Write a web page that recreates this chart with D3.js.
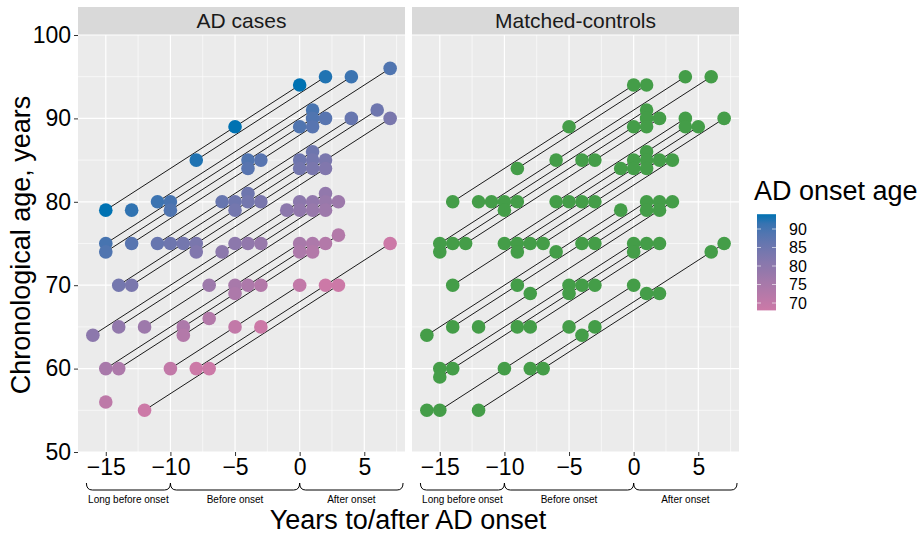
<!DOCTYPE html>
<html>
<head>
<meta charset="utf-8">
<script src="https://cdn.jsdelivr.net/npm/d3@7"></script>
<style>
  body { margin: 0; background: #fff; }
  text { font-family: "Liberation Sans", Arial, sans-serif; }
</style>
</head>
<body>
<svg width="921" height="534"></svg>
<script>
// each track = one subject, [years to/after onset, chronological age]
const caseTracks = [
  [[-15, 79], [-5, 89], [0, 94]],
  [[-8, 85], [2, 95]],
  [[-13, 79]],
  [[-11, 80], [4, 95]],
  [[-15, 75], [-10, 80], [1, 91]],
  [[-15, 74], [-10, 79], [-4, 85], [0, 89], [1, 90], [7, 96]],
  [[-13, 75], [-4, 84], [-3, 85], [1, 89], [2, 90]],
  [[-11, 75], [-6, 80], [4, 90]],
  [[-10, 75], [-5, 80], [-4, 81], [0, 85], [1, 86], [6, 91]],
  [[-14, 70], [-9, 75], [-5, 79], [-4, 80], [0, 84], [1, 85]],
  [[-13, 70], [-8, 75], [-3, 80], [1, 84], [2, 85], [7, 90]],
  [[-8, 74], [2, 84]],
  [[-16, 64], [-6, 74], [-5, 75], [-1, 79], [0, 80]],
  [[-14, 65], [-4, 75], [0, 79], [1, 80], [2, 81]],
  [[-3, 75], [1, 79], [2, 80]],
  [[-12, 65], [-7, 70], [2, 79], [3, 80]],
  [[-15, 60], [-5, 70], [0, 75]],
  [[-14, 60], [-9, 65], [-5, 69], [-4, 70], [0, 74], [1, 75]],
  [[-9, 64], [-7, 66], [-3, 70], [1, 74], [2, 75], [3, 76]],
  [[-15, 56]],
  [[-10, 60], [-5, 65], [0, 70]],
  [[-8, 60], [-3, 65], [2, 70], [7, 75]],
  [[-12, 55], [-7, 60], [3, 70]]
];
const caseOnset = [94, 93, 92, 91, 90, 89, 88, 86, 85, 84, 83, 82, 80, 79, 78, 77, 75, 74, 73, 71, 70, 68, 67];

const controlTracks = [
  [[-14, 80], [-5, 89], [0, 94]],
  [[-9, 84], [1, 94]],
  [[-12, 80]],
  [[-11, 80], [-6, 85], [4, 95]],
  [[-15, 75], [-10, 80], [1, 91]],
  [[-15, 74], [-14, 75], [-10, 79], [-9, 80], [-4, 85], [0, 89], [1, 90], [6, 95]],
  [[-13, 75], [-3, 85], [1, 89], [2, 90]],
  [[-6, 80], [4, 90]],
  [[-10, 75], [-5, 80], [-1, 84], [0, 85], [1, 86], [4, 89]],
  [[-14, 70], [-9, 75], [-4, 80], [0, 84], [1, 85], [5, 89]],
  [[-9, 74], [-8, 75], [-3, 80], [1, 84], [2, 85], [7, 90]],
  [[-7, 75], [3, 85]],
  [[-16, 64], [-6, 74], [-1, 79]],
  [[-14, 65], [-9, 70], [-4, 75], [1, 80]],
  [[-3, 75], [1, 79], [2, 80]],
  [[-12, 65], [-8, 69], [2, 79], [3, 80]],
  [[-15, 60], [-5, 70], [0, 75]],
  [[-15, 59], [-14, 60], [-9, 65], [-5, 69], [-4, 70], [0, 74], [1, 75]],
  [[-8, 65], [-3, 70], [2, 75]],
  [[-16, 55]],
  [[-15, 55], [-10, 60], [-5, 65], [0, 70]],
  [[-8, 60], [-4, 64], [-3, 65], [1, 69], [6, 74], [7, 75]],
  [[-12, 55], [-7, 60], [2, 69]]
];

const xTicks = [-15, -10, -5, 0, 5];
const xMinor = [-17.5, -12.5, -7.5, -2.5, 2.5, 7.5];
const yTicks = [50, 60, 70, 80, 90, 100];
const yMinor = [55, 65, 75, 85, 95];
const legendTicks = [70, 75, 80, 85, 90];
const phaseLabels = ["Long before onset", "Before onset", "After onset"];
const phaseBreaks = [-16.5, -10, 0, 8];

const svg = d3.select("svg");
const panelTop = 35, panelBottom = 452;

const y = d3.scaleLinear().domain([50, 100]).range([panelBottom, panelTop]);
const colour = d3.scaleLinear()
  .domain([68, 94])
  .range(["#CC79A7", "#0072B2"])
  .interpolate(d3.interpolateLab)
  .clamp(true);
const green = "#449D48";

const panels = [
  { title: "AD cases", tracks: caseTracks, fill: (d, i) => colour(caseOnset[i]), left: 78, right: 405 },
  { title: "Matched-controls", tracks: controlTracks, fill: () => green, left: 412, right: 739 }
];

const line = d3.line();

panels.forEach((p, pi) => {
  const x = d3.scaleLinear().domain([-17.15, 8.15]).range([p.left, p.right]);
  const g = svg.append("g");

  // strip
  g.append("rect")
    .attr("x", p.left).attr("y", 7)
    .attr("width", p.right - p.left).attr("height", panelTop - 7)
    .attr("fill", "#D9D9D9");
  g.append("text")
    .attr("x", (p.left + p.right) / 2).attr("y", 28)
    .attr("text-anchor", "middle")
    .attr("font-size", 21)
    .attr("fill", "#1A1A1A")
    .text(p.title);

  // panel background + grid
  g.append("rect")
    .attr("x", p.left).attr("y", panelTop)
    .attr("width", p.right - p.left).attr("height", panelBottom - panelTop)
    .attr("fill", "#EBEBEB");

  g.selectAll(".vminor").data(xMinor.filter(v => x(v) > p.left && x(v) < p.right))
    .enter().append("line")
    .attr("x1", d => x(d)).attr("x2", d => x(d))
    .attr("y1", panelTop).attr("y2", panelBottom)
    .attr("stroke", "#fff").attr("stroke-width", 0.6);
  g.selectAll(".hminor").data(yMinor)
    .enter().append("line")
    .attr("x1", p.left).attr("x2", p.right)
    .attr("y1", d => y(d)).attr("y2", d => y(d))
    .attr("stroke", "#fff").attr("stroke-width", 0.6);
  g.selectAll(".vmajor").data(xTicks)
    .enter().append("line")
    .attr("x1", d => x(d)).attr("x2", d => x(d))
    .attr("y1", panelTop).attr("y2", panelBottom)
    .attr("stroke", "#fff").attr("stroke-width", 1.2);
  g.selectAll(".hmajor").data(yTicks)
    .enter().append("line")
    .attr("x1", p.left).attr("x2", p.right)
    .attr("y1", d => y(d)).attr("y2", d => y(d))
    .attr("stroke", "#fff").attr("stroke-width", 1.2);

  // subject lines
  g.selectAll(".track").data(p.tracks.filter(t => t.length > 1))
    .enter().append("path")
    .attr("d", t => line(t.map(d => [x(d[0]), y(d[1])])))
    .attr("fill", "none")
    .attr("stroke", "#1A1A1A")
    .attr("stroke-width", 1);

  // points
  p.tracks.forEach((t, i) => {
    g.selectAll(null).data(t)
      .enter().append("circle")
      .attr("cx", d => x(d[0])).attr("cy", d => y(d[1]))
      .attr("r", 6.8)
      .attr("fill", p.fill(t, i));
  });

  // x axis
  const xa = g.append("g").attr("transform", `translate(0,${panelBottom})`)
    .call(d3.axisBottom(x).tickValues(xTicks).tickSize(4).tickPadding(3));
  xa.select(".domain").remove();
  xa.selectAll(".tick line").attr("stroke", "#333");
  xa.selectAll(".tick text").attr("font-size", 23).attr("fill", "#000")
    .attr("font-family", "'Liberation Sans', Arial, sans-serif");

  // phase braces
  const by0 = 483, by1 = 490, r = 6;
  phaseLabels.forEach((lab, k) => {
    const a = x(phaseBreaks[k]), b = x(phaseBreaks[k + 1]);
    g.append("path")
      .attr("d", `M${a},${by0} Q${a},${by1} ${a + r},${by1} L${b - r},${by1} Q${b},${by1} ${b},${by0}`)
      .attr("fill", "none").attr("stroke", "#000").attr("stroke-width", 1);
    g.append("text")
      .attr("x", (a + b) / 2).attr("y", 503)
      .attr("text-anchor", "middle")
      .attr("font-size", 10)
      .text(lab);
  });

  if (pi === 0) {
    const ya = g.append("g").attr("transform", `translate(${p.left},0)`)
      .call(d3.axisLeft(y).tickValues(yTicks).tickSize(4).tickPadding(3));
    ya.select(".domain").remove();
    ya.selectAll(".tick line").attr("stroke", "#333");
    ya.selectAll(".tick text").attr("font-size", 23).attr("fill", "#000")
      .attr("font-family", "'Liberation Sans', Arial, sans-serif");
  }
});

// axis titles
svg.append("text")
  .attr("x", 408).attr("y", 529)
  .attr("text-anchor", "middle")
  .attr("font-size", 27)
  .text("Years to/after AD onset");
svg.append("text")
  .attr("transform", "translate(30,245) rotate(-90)")
  .attr("text-anchor", "middle")
  .attr("font-size", 27)
  .text("Chronological age, years");

// colour legend
const ly = d3.scaleLinear().domain([68, 94]).range([310.4, 214.2]);
const grad = svg.append("defs").append("linearGradient")
  .attr("id", "onsetGrad").attr("x1", 0).attr("x2", 0).attr("y1", 1).attr("y2", 0);
d3.range(0, 1.0001, 0.1).forEach(f => {
  grad.append("stop")
    .attr("offset", f)
    .attr("stop-color", colour(68 + f * 26));
});
svg.append("text")
  .attr("x", 754).attr("y", 200)
  .attr("font-size", 27)
  .text("AD onset age");
svg.append("rect")
  .attr("x", 757).attr("y", ly(94))
  .attr("width", 19).attr("height", ly(68) - ly(94))
  .attr("fill", "url(#onsetGrad)");
svg.selectAll(".ltick").data(legendTicks).enter().append("g")
  .each(function (v) {
    const gg = d3.select(this);
    gg.append("line").attr("x1", 757).attr("x2", 761).attr("y1", ly(v)).attr("y2", ly(v))
      .attr("stroke", "#fff").attr("stroke-opacity", 0.6);
    gg.append("line").attr("x1", 772).attr("x2", 776).attr("y1", ly(v)).attr("y2", ly(v))
      .attr("stroke", "#fff").attr("stroke-opacity", 0.6);
    gg.append("text").attr("x", 789).attr("y", ly(v)).attr("dy", "0.36em")
      .attr("font-size", 16).text(v);
  });
</script>
</body>
</html>
